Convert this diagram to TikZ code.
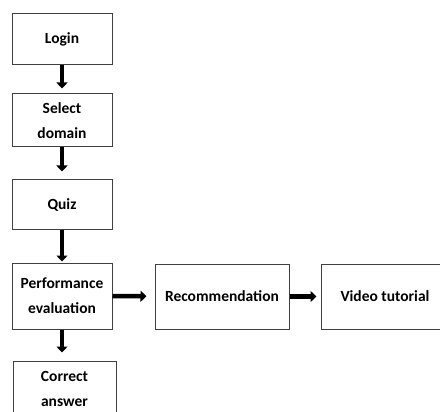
\documentclass[tikz,border=0pt]{standalone}
\usepackage{fontspec}
\setmainfont{Carlito}
\usetikzlibrary{arrows.meta}

\begin{document}
\begin{tikzpicture}[x=1pt,y=-1pt,
	box/.style={draw=black!75,line width=1pt,inner sep=1pt,align=center,font=\bfseries\fontsize{15.5}{25}\selectfont},
	flow/.style={line width=4.5pt,-{Triangle[width=11pt,length=6pt]}}]
		\useasboundingbox (0,0) rectangle (440,412);
		\clip (0,0) rectangle (440,412);
		\node[box,minimum width=100,minimum height=51] (login) at (62,39.5) {Login}; %login
		\node[box,minimum width=100,minimum height=53] (domain) at (62,120.5) {Select\\domain};
		\node[box,minimum width=100,minimum height=50] (quiz) at (62,205) {Quiz};
		\node[box,minimum width=100,minimum height=66] (perf) at (62,296) {Performance\\evaluation};
		\node[box,minimum width=103,minimum height=56] (correct) at (64.5,389) {Correct\\answer}; %unten
		\node[box,minimum width=134,minimum height=65] (recom) at (222,296.5) {Recommendation};
		\node[box,minimum width=128,minimum height=65] (video) at (385,296.5) {Video tutorial};
		\draw[flow,shorten >=5pt] (login) -- (domain);
		\draw[flow,shorten >=8pt] (domain) -- (quiz);
		\draw[flow,shorten >=1pt] (quiz) -- (perf);
		\draw[flow,shorten >=8pt] (perf.south) -- (perf.south|-correct.north);
		\draw[flow,shorten >=8pt] (perf) -- (recom);
		\draw[flow,shorten >=4pt] (recom) -- (video);
	\end{tikzpicture}
\end{document}
